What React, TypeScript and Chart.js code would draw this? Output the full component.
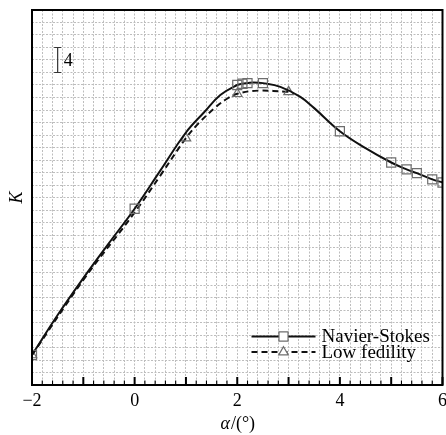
import React, { useEffect, useRef } from 'react';
import { Chart, registerables } from 'chart.js';

Chart.register(...registerables);

// ---- data ----
const nsAlpha = [-2, -1.5, -1, -0.5, 0, 0.5, 1, 1.35, 1.67, 2.0, 2.1, 2.2, 2.32, 2.5, 2.84, 3.23, 3.5, 4.0, 4.5, 5.0, 5.3, 5.5, 5.8, 6.0];
const nsK = [4.8, 11.2, 17.1, 22.7, 28.2, 34.3, 40.4, 43.6, 46.4, 48.0, 48.2, 48.3, 48.4, 48.3, 47.7, 46.1, 44.3, 40.6, 37.9, 35.6, 34.5, 33.9, 32.9, 32.4];
const nsMarked = [true, false, false, false, true, false, false, false, false, true, true, true, false, true, false, false, false, true, false, true, true, true, true, true];

const lfAlpha = [-2, -1, 0, 0.5, 1, 1.25, 1.6, 1.8, 2.0, 2.4, 3.0];
const lfK = [4.8, 16.8, 27.6, 33.5, 39.5, 41.9, 44.6, 45.8, 46.6, 47.1, 46.9];
const lfMarked = [true, false, false, false, true, false, false, false, true, false, true];

const seriesNames = ['Navier-Stokes', 'Low fedility'];
const xTickLabels = [-2, 0, 2, 4, 6];
const xRange = [-2, 6];
const yRange = [0, 60];
const scaleBarAlpha = -1.5;
const scaleBarFrom = 50;
const scaleBarTo = 54;
const scaleBarLabel = '4';
const xTitleItalic = 'α';
const xTitleRest = '/(°)';
const yTitle = 'K';

const SERIF = '"Liberation Serif", "Times New Roman", serif';
const MARKER_COLOR = '#6e6e6e';
const GRID_COLOR = '#bdbdbd';

function drawMarker(ctx: CanvasRenderingContext2D, style: string, x: number, y: number, r: number) {
  ctx.beginPath();
  if (style === 'rect') {
    const s = r * Math.SQRT1_2;
    ctx.rect(x - s, y - s, 2 * s, 2 * s);
  } else {
    ctx.moveTo(x, y - r);
    ctx.lineTo(x - r * 0.866, y + r * 0.5);
    ctx.lineTo(x + r * 0.866, y + r * 0.5);
    ctx.closePath();
  }
  ctx.fillStyle = '#fff';
  ctx.fill();
  ctx.strokeStyle = MARKER_COLOR;
  ctx.lineWidth = 1.2;
  ctx.setLineDash([]);
  ctx.stroke();
}

const decor = {
  id: 'decor',
  afterDraw(chart: any) {
    const { ctx, chartArea: a, scales } = chart;
    const xs = scales.x;
    const ys = scales.y;
    ctx.save();
    // inner tick marks on the bottom axis
    ctx.strokeStyle = '#000';
    xs.ticks.forEach((t: any) => {
      const px = xs.getPixelForValue(t.value);
      const major = Math.abs(t.value - Math.round(t.value)) < 1e-6;
      ctx.lineWidth = major ? 2 : 1.1;
      ctx.beginPath();
      ctx.moveTo(px, a.bottom);
      ctx.lineTo(px, a.bottom - (major ? 8 : 4.5));
      ctx.stroke();
    });
    // frame
    ctx.lineWidth = 2;
    ctx.strokeStyle = '#000';
    ctx.strokeRect(a.left, a.top, a.right - a.left, a.bottom - a.top);

    // scale bar
    const bx = xs.getPixelForValue(scaleBarAlpha);
    const by1 = ys.getPixelForValue(scaleBarTo);
    const by2 = ys.getPixelForValue(scaleBarFrom);
    ctx.strokeStyle = '#333';
    ctx.lineWidth = 1.2;
    ctx.beginPath();
    ctx.moveTo(bx, by1); ctx.lineTo(bx, by2);
    ctx.moveTo(bx - 3.5, by1); ctx.lineTo(bx + 3.5, by1);
    ctx.moveTo(bx - 3.5, by2); ctx.lineTo(bx + 3.5, by2);
    ctx.stroke();
    ctx.fillStyle = '#000';
    ctx.font = `18px ${SERIF}`;
    ctx.textAlign = 'left';
    ctx.textBaseline = 'middle';
    ctx.fillText(scaleBarLabel, bx + 6, (by1 + by2) / 2 + 1);

    // legend
    chart.data.datasets.forEach((ds: any, i: number) => {
      const y = a.bottom - 48.5 + i * 15.6;
      const x1 = a.right - 191;
      const x2 = a.right - 127;
      ctx.strokeStyle = ds.borderColor;
      ctx.lineWidth = ds.borderWidth;
      ctx.setLineDash(ds.borderDash || []);
      ctx.beginPath();
      ctx.moveTo(x1, y); ctx.lineTo(x2, y);
      ctx.stroke();
      ctx.setLineDash([]);
      drawMarker(ctx, ds.pointStyle, (x1 + x2) / 2, y, ds.pointStyle === 'rect' ? 6.4 : 5.5);
      ctx.fillStyle = '#000';
      ctx.font = `19px ${SERIF}`;
      ctx.textAlign = 'left';
      ctx.textBaseline = 'middle';
      ctx.fillText(ds.label, a.right - 121, y + 1);
    });

    // x axis title with italic alpha
    ctx.textBaseline = 'middle';
    ctx.textAlign = 'left';
    const fi = `italic 18px ${SERIF}`;
    const fn = `18px ${SERIF}`;
    ctx.font = fi;
    const w1 = ctx.measureText(xTitleItalic).width;
    ctx.font = fn;
    const w2 = ctx.measureText(xTitleRest).width;
    const cx = (a.left + a.right) / 2;
    const ty = a.bottom + 39;
    const sx = cx - (w1 + w2) / 2;
    ctx.font = fi;
    ctx.fillText(xTitleItalic, sx, ty);
    ctx.font = fn;
    ctx.fillText(xTitleRest, sx + w1 + 1, ty);
    ctx.restore();
  },
};

export default function App() {
  const ref = useRef<HTMLCanvasElement | null>(null);
  useEffect(() => {
    if (!ref.current) return;
    const nsData = nsAlpha.map((x, i) => ({ x, y: nsK[i] }));
    const lfData = lfAlpha.map((x, i) => ({ x, y: lfK[i] }));
    const chart = new Chart(ref.current, {
      type: 'line',
      data: {
        datasets: [
          {
            label: seriesNames[0],
            data: nsData,
            borderColor: '#111',
            borderWidth: 2,
            pointStyle: 'rect',
            pointRadius: nsMarked.map((m) => (m ? 6.4 : 0)),
            pointBorderColor: MARKER_COLOR,
            pointBackgroundColor: 'rgba(0,0,0,0)',
            pointBorderWidth: 1.2,
            tension: 0.4,
            fill: false,
            order: 1,
          },
          {
            label: seriesNames[1],
            data: lfData,
            borderColor: '#111',
            borderWidth: 2,
            borderDash: [6, 4],
            pointStyle: 'triangle',
            pointRadius: lfMarked.map((m) => (m ? 5.5 : 0)),
            pointBorderColor: MARKER_COLOR,
            pointBackgroundColor: 'rgba(0,0,0,0)',
            pointBorderWidth: 1.2,
            tension: 0.4,
            fill: false,
            order: 2,
          },
        ],
      },
      options: {
        animation: false,
        responsive: false,
        devicePixelRatio: 1,
        layout: { padding: { top: 10, right: 0, left: 0, bottom: 0 } },
        plugins: { legend: { display: false }, tooltip: { enabled: false } },
        scales: {
          x: {
            type: 'linear',
            min: xRange[0],
            max: xRange[1],
            border: { display: false, dash: [2, 1.5] },
            grid: { color: GRID_COLOR, lineWidth: 1, drawTicks: false },
            ticks: {
              stepSize: 0.2,
              autoSkip: false,
              maxRotation: 0,
              padding: 5,
              color: '#000',
              font: { family: SERIF, size: 18 },
              callback: (v: any) => {
                const n = Math.round(Number(v));
                if (Math.abs(Number(v) - n) > 1e-6) return '';
                if (!xTickLabels.includes(n)) return '';
                return n < 0 ? '−' + Math.abs(n) : String(n);
              },
            },
            afterFit: (s: any) => { s.height = 50; },
          },
          y: {
            type: 'linear',
            min: yRange[0],
            max: yRange[1],
            border: { display: false, dash: [2, 1.5] },
            grid: { color: GRID_COLOR, lineWidth: 1, drawTicks: false },
            ticks: { display: false, stepSize: 2 },
            title: {
              display: true,
              text: yTitle,
              color: '#000',
              font: { family: SERIF, size: 18, style: 'italic' },
              padding: { top: 6, bottom: 0 },
            },
            afterFit: (s: any) => { s.width = 32; },
          },
        },
      },
      plugins: [decor],
    } as any);
    return () => chart.destroy();
  }, []);
  return (
    <div style={{ position: 'fixed', left: 0, top: 0, width: 446, height: 435, overflow: 'hidden', background: '#fff' }}>
      <canvas ref={ref} width={452} height={435} />
    </div>
  );
}
